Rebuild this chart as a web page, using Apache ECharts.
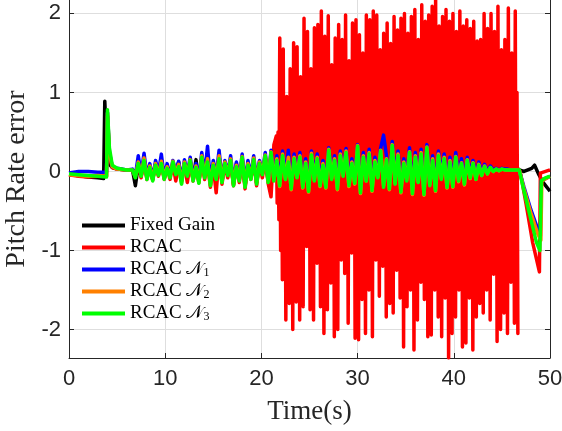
<!DOCTYPE html>
<html><head><meta charset="utf-8">
<script src="https://cdn.jsdelivr.net/npm/echarts@6/dist/echarts.min.js"></script>
<style>html,body{margin:0;padding:0;background:#fff}#c{width:562px;height:431px}</style>
</head><body><div id="c"></div>
<script>
// ---- data ----
const seriesNames = ['Fixed Gain', 'RCAC', 'RCAC N1', 'RCAC N2', 'RCAC N3'];
const xTicks = [0, 10, 20, 30, 40, 50];
const yTicks = [-2, -1, 0, 1, 2];

// noise region sample times: 6.6 s .. 46.8 s, every 0.3 s
const noiseStart = 6.6, noiseStep = 0.3;

const blackStart = [[0,-0.04],[1,-0.05],[2,-0.07],[3,-0.08],[3.6,-0.09],[3.72,0.89],[3.85,0.5],[4.0,0.12],[4.5,0.05],[5,0.03],[6,0.02]];
const blackNoise = [0.02,-0.18,0.08,-0.06,0.16,-0.08,0.06,-0.1,0.1,-0.04,
 0.12,-0.08,0.05,-0.06,0.1,-0.04,0.12,-0.12,0.1,-0.05,
 0.12,-0.1,0.15,-0.12,0.14,-0.06,0.18,-0.14,0.08,-0.08,
 0.15,-0.12,0.1,-0.04,0.12,-0.16,0.06,-0.1,0.16,-0.18,
 0.08,-0.08,0.14,-0.14,0.1,-0.03,0.18,-0.12,0.2,-0.1,
 0.12,-0.16,0.18,-0.08,0.1,-0.2,0.14,-0.06,0.16,-0.18,
 0.08,-0.22,0.18,-0.1,0.14,-0.16,0.06,-0.18,0.24,-0.08,
 0.12,-0.2,0.18,-0.04,0.22,-0.16,0.08,-0.13,0.28,-0.24,
 0.16,-0.1,0.2,-0.22,0.1,-0.06,0.22,-0.18,0.13,-0.2,
 0.28,-0.14,0.18,-0.24,0.08,-0.1,0.2,-0.26,0.16,-0.12,
 0.2,-0.26,0.26,-0.16,0.12,-0.22,0.18,-0.08,0.14,-0.18,
 0.1,-0.17,0.16,-0.1,0.08,-0.14,0.12,-0.06,0.08,-0.08,
 0.06,-0.04,0.05,-0.02,0.04,0.0,0.03,0.01,0.03,0.02,
 0.02,0.02,0.02,0.02,0.02];
const blackEnd = [[47.3,0.0],[47.7,0.02],[48.1,0.04],[48.4,0.08],[48.8,-0.03],[49.3,-0.14],[50,-0.25]];

const redStart = [[0,-0.04],[1,-0.06],[2,-0.07],[3,-0.06],[3.9,-0.06],[4.0,0.7],[4.2,0.2],[4.5,0.05],[5,0.03],[6,0.02]];
const redNoise = [0.02,-0.06,0.1,-0.08,0.15,-0.1,0.06,-0.1,0.08,-0.06,
 0.1,-0.1,0.05,-0.1,0.1,-0.12,0.06,-0.1,0.08,-0.14,
 0.12,-0.12,0.06,-0.14,0.14,-0.1,0.1,-0.2,0.06,-0.27,
 0.2,-0.16,0.08,-0.08,0.12,-0.18,0.1,-0.14,0.16,-0.22,
 0.1,-0.1,0.14,-0.18,0.12,-0.08,0.16,-0.15,-0.32,0.34];
// fast oscillation 21.55 s .. 46.5 s, 0.36 s per block of two swings:
// big swing (top, bottom) read from the visible spikes, inner swing (midBottom, midTop) filling the solid core
const oscStart = 21.55, oscCycle = 0.36;
const redOscTop = [0.45,1.69,1.55,0.95,1.3,1.63,1.58,1.2,1.94,1.77,
 1.3,1.82,1.86,2.03,1.71,1.97,1.35,1.69,1.86,1.67,
 1.98,1.4,1.88,1.92,1.73,1.5,1.98,1.92,2.03,1.98,
 1.54,1.75,1.88,1.62,1.96,1.79,1.94,2.0,1.75,1.96,
 2.05,1.67,2.11,1.9,1.98,2.09,2.17,1.84,1.96,2.05,
 1.9,2.0,1.77,2.03,1.84,1.92,1.81,1.9,1.65,1.67,
 2.0,1.81,2.0,1.77,2.09,1.54,1.67,2.07,1.5,2.03];
const redOscBottom = [-0.61,-1.37,-1.88,-1.67,-2.0,-1.65,-1.88,-1.71,-0.95,-1.75,
 -1.88,-1.16,-1.71,-2.05,-1.75,-1.41,-2.09,-2.0,-1.12,-1.29,
 -1.92,-1.03,-2.11,-2.13,-1.62,-2.05,-1.5,-2.09,-1.12,-1.58,
 -1.2,-1.84,-1.67,-1.79,-1.25,-1.6,-2.22,-1.71,-1.5,-2.26,
 -1.88,-1.4,-1.62,-2.09,-2.07,-1.5,-1.84,-2.09,-1.6,-2.36,
 -2.05,-1.84,-1.5,-2.22,-2.17,-1.6,-2.26,-1.84,-1.67,-1.79,
 -1.5,-1.88,-1.3,-2.15,-2.0,-1.79,-2.05,-1.4,-1.92,-2.05];
const redOscMidBottom = [-0.4,-1.0,-1.12,-1.42,-1.42,-1.4,-1.4,-1.46,-0.9,-0.9,
 -1.5,-0.95,-0.95,-1.46,-1.5,-1.16,-1.16,-1.75,-0.9,-0.9,
 -1.04,-0.9,-0.9,-1.86,-1.37,-1.37,-1.25,-1.25,-0.9,-0.9,
 -0.95,-0.95,-1.42,-1.42,-1.0,-1.0,-1.35,-1.46,-1.25,-1.25,
 -1.63,-1.15,-1.15,-1.37,-1.82,-1.25,-1.25,-1.59,-1.35,-1.35,
 -1.8,-1.59,-1.25,-1.25,-1.92,-1.35,-1.35,-1.59,-1.42,-1.42,
 -1.25,-1.25,-1.05,-1.05,-1.75,-1.54,-1.54,-1.15,-1.15,-1.67];
const redOscMidTop = [0.5,1.3,0.9,0.9,1.05,1.33,0.95,0.95,1.52,1.05,
 1.05,1.57,1.61,1.46,1.46,1.1,1.1,1.44,1.42,1.42,
 1.15,1.15,1.63,1.48,1.25,1.25,1.67,1.67,1.73,1.29,
 1.29,1.5,1.37,1.37,1.54,1.54,1.69,1.5,1.5,1.71,
 1.42,1.42,1.65,1.65,1.73,1.84,1.59,1.59,1.71,1.65,
 1.65,1.52,1.52,1.59,1.59,1.56,1.56,1.4,1.4,1.42,
 1.56,1.56,1.52,1.52,1.29,1.29,1.42,1.25,1.25,1.0];
const redEnd = [[46.6,0.05],[46.9,0.0],[47.5,-0.4],[48.2,-0.9],[48.9,-1.27],[49.0,-0.02],[50,0.02]];

const blueStart = [[0,-0.02],[1,0.0],[2,0.0],[3,-0.01],[3.9,-0.01],[4.0,0.75],[4.2,0.25],[4.5,0.06],[5,0.04],[6,0.02]];
const blueNoise = [0.03,-0.05,0.2,-0.03,0.23,-0.06,0.1,-0.09,0.14,-0.02,
 0.22,-0.07,0.1,-0.05,0.14,0.0,0.13,-0.12,0.15,-0.02,
 0.18,-0.08,0.1,-0.1,0.24,-0.04,0.32,-0.13,0.14,-0.06,
 0.27,-0.1,0.14,-0.02,0.2,-0.13,0.12,-0.08,0.22,-0.14,
 0.14,-0.06,0.2,-0.1,0.14,0.0,0.24,-0.1,0.27,-0.08,
 0.2,-0.12,0.26,-0.05,0.27,-0.16,0.22,-0.04,0.24,-0.14,
 0.16,-0.2,0.26,-0.07,0.22,-0.12,0.14,-0.14,0.3,-0.05,
 0.2,-0.16,0.26,-0.02,0.29,-0.12,0.16,-0.1,0.34,-0.2,
 0.24,-0.07,0.28,-0.18,0.18,-0.03,0.3,0.46,0.2,-0.16,
 0.38,-0.1,0.26,-0.2,0.16,-0.06,0.3,-0.22,0.24,-0.08,
 0.28,-0.23,0.34,-0.12,0.2,-0.18,0.26,-0.04,0.22,-0.14,
 0.18,-0.13,0.24,-0.06,0.16,-0.1,0.18,-0.03,0.14,-0.05,
 0.12,-0.01,0.09,0.0,0.07,0.02,0.04,0.02,0.04,0.03,
 0.03,0.02,0.02,0.02,0.02];
const blueEnd = [[47.3,-0.2],[48.0,-0.48],[48.7,-0.72],[49.0,-0.82],[49.1,-0.12],[50,-0.06]];

const orangeStart = [[0,-0.04],[1,-0.05],[2,-0.06],[3,-0.05],[3.9,-0.06],[4.0,0.74],[4.2,0.22],[4.5,0.06],[5,0.03],[6,0.02]];
const orangeNoise = [0.02,-0.07,0.12,-0.05,0.17,-0.09,0.07,-0.11,0.1,-0.04,
 0.13,-0.09,0.06,-0.07,0.13,-0.03,0.09,-0.15,0.12,-0.05,
 0.15,-0.11,0.07,-0.14,0.2,-0.07,0.16,-0.17,0.1,-0.09,
 0.2,-0.13,0.12,-0.04,0.16,-0.17,0.08,-0.11,0.19,-0.19,
 0.1,-0.09,0.17,-0.15,0.12,-0.03,0.21,-0.13,0.25,-0.11,
 0.16,-0.19,0.22,-0.1,0.18,-0.23,0.18,-0.07,0.2,-0.21,
 0.12,-0.26,0.23,-0.11,0.18,-0.19,0.1,-0.21,0.28,-0.09,
 0.16,-0.23,0.22,-0.05,0.26,-0.19,0.12,-0.16,0.33,-0.28,
 0.2,-0.12,0.24,-0.25,0.14,-0.07,0.27,-0.18,0.16,-0.23,
 0.34,-0.15,0.22,-0.27,0.12,-0.11,0.25,-0.29,0.2,-0.13,
 0.24,-0.3,0.31,-0.17,0.16,-0.25,0.22,-0.09,0.18,-0.21,
 0.14,-0.2,0.19,-0.13,0.11,-0.17,0.15,-0.09,0.11,-0.1,
 0.09,-0.05,0.07,-0.03,0.05,0.0,0.03,0.01,0.03,0.02,
 0.02,0.02,0.02,0.02,0.02];
const orangeEnd = [[47.3,-0.22],[48.0,-0.52],[48.7,-0.78],[49.05,-0.87],[49.15,-0.12],[50,-0.06]];

const greenStart = [[0,-0.03],[1,-0.04],[2,-0.05],[3,-0.06],[3.9,-0.07],[4.0,0.78],[4.2,0.3],[4.5,0.08],[5,0.04],[6,0.02]];
const greenNoise = [0.02,-0.08,0.1,-0.06,0.14,-0.1,0.05,-0.12,0.08,-0.05,
 0.1,-0.1,0.04,-0.08,0.12,-0.04,0.06,-0.16,0.1,-0.06,
 0.14,-0.12,0.05,-0.15,0.18,-0.08,0.12,-0.18,0.08,-0.1,
 0.16,-0.14,0.1,-0.05,0.14,-0.18,0.06,-0.12,0.18,-0.2,
 0.08,-0.1,0.15,-0.16,0.1,-0.04,0.2,-0.14,0.24,-0.12,
 0.14,-0.18,0.2,-0.1,0.12,-0.22,0.16,-0.08,0.18,-0.2,
 0.1,-0.25,0.21,-0.12,0.16,-0.18,0.08,-0.2,0.27,-0.1,
 0.14,-0.22,0.2,-0.06,0.24,-0.18,0.1,-0.15,0.32,-0.27,
 0.18,-0.12,0.22,-0.24,0.12,-0.08,0.26,-0.2,0.15,-0.22,
 0.33,-0.16,0.2,-0.26,0.1,-0.12,0.24,-0.28,0.18,-0.14,
 0.22,-0.29,0.3,-0.18,0.14,-0.24,0.2,-0.1,0.16,-0.2,
 0.12,-0.19,0.18,-0.12,0.1,-0.16,0.14,-0.08,0.1,-0.1,
 0.08,-0.05,0.06,-0.03,0.05,0.0,0.03,0.01,0.03,0.02,
 0.02,0.02,0.02,0.02,0.02];
const greenEnd = [[47.3,-0.25],[48.0,-0.6],[48.6,-0.9],[48.95,-1.0],[49.1,-0.12],[49.5,-0.08],[50,-0.06]];

// ---- build [t, value] lists ----
function noisePairs(vals) {
  const out = [];
  for (let k = 0; k < vals.length; k++) out.push([+(noiseStart + noiseStep * k).toFixed(3), vals[k]]);
  return out;
}
function oscPairs(top, midBot, midTop, bot) {
  const out = [];
  const q = oscCycle / 4;
  for (let j = 0; j < top.length; j++) {
    const t0 = oscStart + oscCycle * j;
    out.push([+t0.toFixed(3), top[j]]);
    out.push([+(t0 + q).toFixed(3), midBot[j]]);
    out.push([+(t0 + 2 * q).toFixed(3), midTop[j]]);
    out.push([+(t0 + 3 * q).toFixed(3), bot[j]]);
  }
  return out;
}
const blackData = blackStart.concat(noisePairs(blackNoise), blackEnd);
const redData = redStart.concat(noisePairs(redNoise), oscPairs(redOscTop, redOscMidBottom, redOscMidTop, redOscBottom), redEnd);
const blueData = blueStart.concat(noisePairs(blueNoise), blueEnd);
const orangeData = orangeStart.concat(noisePairs(orangeNoise), orangeEnd);
const greenData = greenStart.concat(noisePairs(greenNoise), greenEnd);

const colors = ['#000000', '#ff0000', '#0000ff', '#ff8000', '#00ff00'];
const allData = [blackData, redData, blueData, orangeData, greenData];

const chart = echarts.init(document.getElementById('c'), null, {renderer: 'canvas'});
const axisColor = '#262626';
const labelFont = 'Liberation Sans, Arial, sans-serif';
const serif = 'Liberation Serif, Times New Roman, DejaVu Serif, serif';

chart.setOption({
  animation: false,
  backgroundColor: '#ffffff',
  grid: {left: 69, right: 12, top: 0, bottom: 73, containLabel: false, outerBoundsMode: 'none'},
  legend: {
    data: seriesNames,
    left: 82, top: 216, orient: 'vertical', padding: 0,
    icon: 'rect', itemWidth: 43, itemHeight: 4, itemGap: 3,
    backgroundColor: 'transparent',
    textStyle: {
      fontFamily: serif, fontSize: 19, color: '#000', lineHeight: 19,
      rich: {
        n: {fontFamily: 'DejaVu Serif, DejaVu Sans, serif', fontSize: 18, color: '#000', lineHeight: 19},
        s: {fontFamily: serif, fontSize: 12, color: '#000', lineHeight: 12, padding: [7, 0, 0, 0]}
      }
    },
    formatter: function (name) {
      const m = name.match(/^RCAC N(\d)$/);
      if (m) return 'RCAC {n|\uD835\uDCA9}{s|' + m[1] + '}';
      return name;
    }
  },
  xAxis: [{
    type: 'value', min: 0, max: 50, interval: 10,
    name: 'Time(s)', nameLocation: 'middle', nameGap: 40,
    nameTextStyle: {fontFamily: serif, fontSize: 27, color: axisColor},
    axisLine: {show: true, onZero: false, lineStyle: {color: axisColor, width: 1}},
    axisTick: {show: true, inside: true, length: 5, lineStyle: {color: axisColor}},
    axisLabel: {fontFamily: labelFont, fontSize: 22, color: axisColor, margin: 10,
      customValues: xTicks},
    splitLine: {show: true, lineStyle: {color: '#dedede', width: 1}}
  }],
  yAxis: [{
    type: 'value', min: -2.36, max: 2.17, splitNumber: 5,
    name: 'Pitch Rate error', nameLocation: 'middle', nameGap: 36,
    nameTextStyle: {fontFamily: serif, fontSize: 28, color: axisColor},
    axisLine: {show: true, onZero: false, lineStyle: {color: axisColor, width: 1}},
    axisTick: {show: true, inside: true, length: 5, lineStyle: {color: axisColor}, customValues: yTicks},
    axisLabel: {fontFamily: labelFont, fontSize: 22, color: axisColor, margin: 8,
      customValues: yTicks},
    splitLine: {show: true, lineStyle: {color: '#dedede', width: 1}}
  }, {
    type: 'value', min: -2.36, max: 2.17, position: 'right',
    axisLine: {show: true, onZero: false, lineStyle: {color: axisColor, width: 1}},
    axisTick: {show: true, inside: true, length: 5, lineStyle: {color: axisColor}, customValues: yTicks},
    axisLabel: {show: false},
    splitLine: {show: false}
  }],
  series: seriesNames.map((name, i) => ({
    name: name, type: 'line', data: allData[i],
    xAxisIndex: 0, yAxisIndex: 0,
    symbol: 'none', showSymbol: false, sampling: 'none', clip: true,
    lineStyle: {color: colors[i], width: 3.5, join: 'round'},
    itemStyle: {color: colors[i]},
    z: 2 + i
  }))
});
</script></body></html>
